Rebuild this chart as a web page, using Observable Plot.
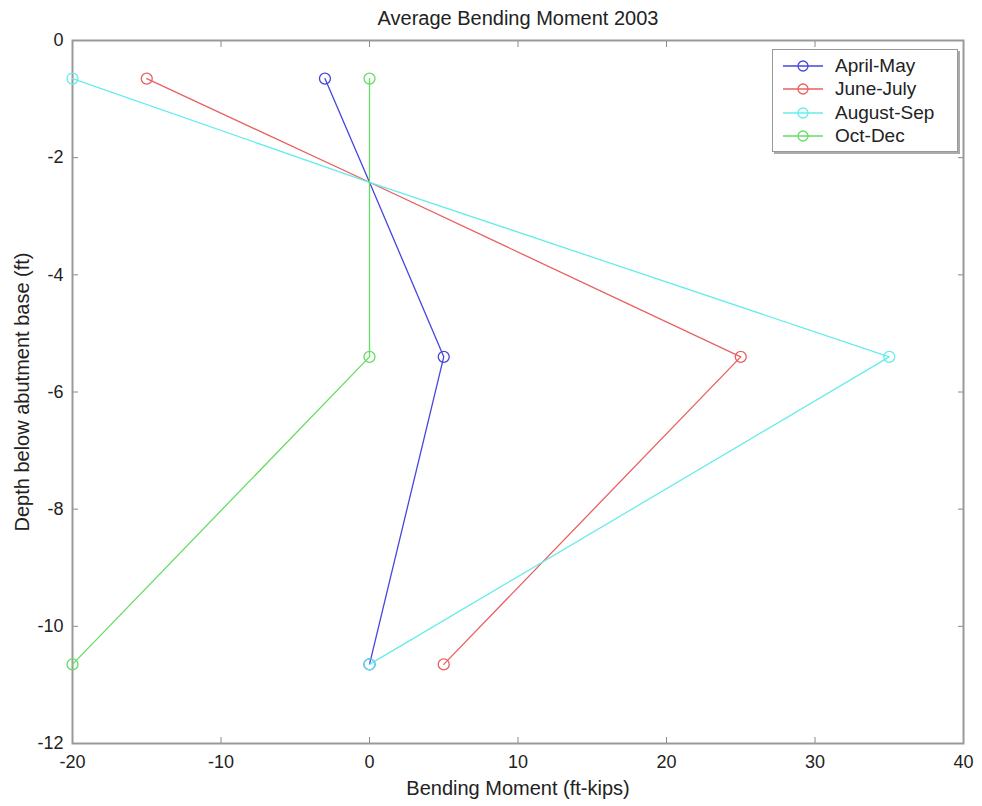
<!DOCTYPE html>
<html>
<head>
<meta charset="utf-8">
<script src="https://cdn.jsdelivr.net/npm/d3@7"></script>
<script src="https://cdn.jsdelivr.net/npm/@observablehq/plot@0.6"></script>
<style>
  html, body { margin: 0; padding: 0; background: #fff; }
  #wrap { position: relative; width: 982px; height: 806px; font-family: "Liberation Sans", Arial, sans-serif; }
  #legend { position: absolute; left: 772px; top: 49px; width: 186px; height: 103px; border: 1.5px solid #999; background: #fff; box-shadow: 2px 2px 0 #aaa; box-sizing: border-box; }
  .row { position: absolute; left: 0; height: 23px; display: flex; align-items: center; font-size: 19px; color: #222; white-space: nowrap; }
  .row svg { margin-left: 10px; margin-right: 12px; }
</style>
</head>
<body>
<div id="wrap">
  <div id="chart"></div>
  <div id="legend"></div>
</div>
<script>
const title = "Average Bending Moment 2003";
const xLabel = "Bending Moment (ft-kips)";
const yLabel = "Depth below abutment base (ft)";
const seriesNames = ["April-May", "June-July", "August-Sep", "Oct-Dec"];
const seriesColors = ["#4646e0", "#e86060", "#66ecec", "#66dc66"];
const depth = [-0.65, -2.42, -5.4, -10.65];
const aprilMay = [-3, 0, 5, 0];
const juneJuly = [-15, 0, 25, 5];
const augustSep = [-20, 0, 35, 0];
const octDec = [0, 0, 0, -20];
const markerIndex = [0, 2, 3];
const xTicks = [-20, -10, 0, 10, 20, 30, 40];
const yTicks = [0, -2, -4, -6, -8, -10, -12];

const seriesValues = [aprilMay, juneJuly, augustSep, octDec];
const rows = [];
seriesNames.forEach((name, s) => {
  seriesValues[s].forEach((v, i) => rows.push({series: name, x: v, y: depth[i], i}));
});
const markers = rows.filter(d => markerIndex.includes(d.i));

const font = "Liberation Sans, Arial, sans-serif";
const chart = Plot.plot({
  width: 982,
  height: 806,
  marginLeft: 72,
  marginRight: 19,
  marginTop: 40,
  marginBottom: 63,
  style: {fontFamily: font, fontSize: "18px", color: "#222", background: "#fff"},
  x: {domain: [-20, 40], ticks: xTicks},
  y: {domain: [-12, 0], ticks: yTicks},
  color: {domain: seriesNames, range: seriesColors},
  marks: [
    Plot.axisX({anchor: "bottom", ticks: xTicks, tickSize: 0, tickPadding: 12, tickFormat: d => String(d), label: null, fontSize: 18}),
    Plot.axisX({anchor: "bottom", ticks: xTicks, tickSize: -6, text: null, label: null, stroke: "#888"}),
    Plot.axisX({anchor: "top", ticks: xTicks, tickSize: -6, text: null, label: null, stroke: "#888"}),
    Plot.axisY({anchor: "left", ticks: yTicks, tickSize: 0, tickPadding: 9, tickFormat: d => String(d), label: null, fontSize: 18}),
    Plot.axisY({anchor: "left", ticks: yTicks, tickSize: -6, text: null, label: null, stroke: "#888"}),
    Plot.axisY({anchor: "right", ticks: yTicks, tickSize: -6, text: null, label: null, stroke: "#888"}),
    Plot.frame({stroke: "#999", strokeWidth: 2}),
    Plot.line(rows, {x: "x", y: "y", z: "series", stroke: "series", strokeWidth: 1.3}),
    Plot.dot(markers, {x: "x", y: "y", stroke: "series", r: 5.5, strokeWidth: 1.3, fill: "none"}),
    Plot.text([title], {text: d => d, frameAnchor: "top", lineAnchor: "middle", dy: -22, fontSize: 20, fill: "#222"}),
    Plot.text([xLabel], {text: d => d, frameAnchor: "bottom", lineAnchor: "middle", dy: 45, fontSize: 20, fill: "#222"}),
    Plot.text([yLabel], {text: d => d, frameAnchor: "left", textAnchor: "middle", lineAnchor: "middle", dx: -50, rotate: -90, fontSize: 20, fill: "#222"})
  ]
});
document.getElementById("chart").appendChild(chart);

const legend = document.getElementById("legend");
const rowTops = [4, 27, 51, 74];
seriesNames.forEach((name, i) => {
  const row = document.createElement("div");
  row.className = "row";
  row.style.top = rowTops[i] + "px";
  row.innerHTML = `<svg width="40" height="14"><line x1="0" y1="7" x2="40" y2="7" stroke="${seriesColors[i]}" stroke-width="1.3"/><circle cx="20" cy="7" r="5" fill="none" stroke="${seriesColors[i]}" stroke-width="1.3"/></svg><span>${name}</span>`;
  legend.appendChild(row);
});
</script>
</body>
</html>
